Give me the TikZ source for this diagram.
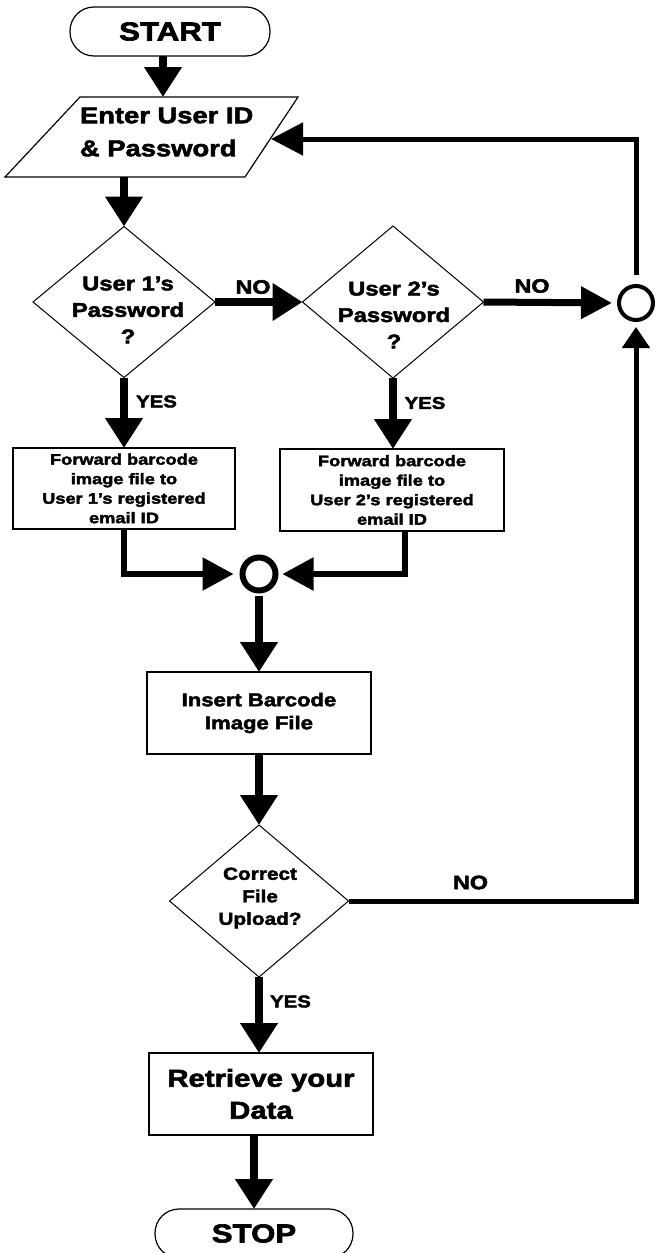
\documentclass[tikz,border=0pt]{standalone}
\usepackage{fontspec}
\setmainfont{Liberation Sans}
\newfontfamily\hv{Liberation Sans Bold}[FakeBold=2.5,FakeStretch=1.2]
\usetikzlibrary{arrows.meta,shapes.geometric,calc}
\newcommand\fsz[2]{\hv\fontsize{#1}{#2}\selectfont}
\begin{document}
\begin{tikzpicture}[x=1pt,y=-1pt,
  every node/.style={inner sep=0pt,outer sep=0pt},
  term/.style={draw,line width=1.2pt,rounded corners=24pt,minimum width=200pt,minimum height=49pt,font=\fsz{26}{30}},
  box/.style={draw,line width=1.2pt,rectangle,align=center},
  dia/.style={draw,diamond,line width=1pt},
  dtext/.style={align=center,font=\fsz{19.8}{26.5}},
  shapeline/.style={line width=1.2pt,line join=miter},
  arr/.style={line width=7.5pt,-{Triangle[length=30pt,width=36pt]}},
  arrR/.style={line width=7pt,-{Triangle[length=31pt,width=31pt]}},
  arrM/.style={line width=5.5pt,-{Triangle[length=31pt,width=32pt]}},
  loopline/.style={line width=5pt},
  nolbl/.style={font=\fsz{19.5}{22}},
  yeslbl/.style={font=\fsz{17}{19}}]
\useasboundingbox (0,0) rectangle (656,1253);

% START
\node[term] (start) at (170,31.5) {START};

% input parallelogram
\coordinate (pTL) at (80,97);
\coordinate (pTR) at (298,97);
\coordinate (pBR) at (245,177);
\coordinate (pBL) at (5,177);
\draw[shapeline] (pTL)--(pTR)--(pBR)--(pBL)--cycle;
\node[font=\fsz{22.8}{33},align=left,anchor=west] (enter) at (80,132) {Enter User ID\\\& Password};
\coordinate (enterIn) at (163,97);
\coordinate (enterOut) at (124,177);
\coordinate (enterRet) at (271,139);

% decisions
\node[dia,minimum width=182pt,minimum height=151pt] (d1) at (124,302) {};
\node[dtext] (d1t) at (128,310) {User 1’s\\Password\\?};
\node[dia,minimum width=181pt,minimum height=152pt] (d2) at (393,302) {};
\node[dtext] (d2t) at (394,315) {User 2’s\\Password\\?};
\node[circle,draw,line width=4pt,minimum size=34pt] (cR) at (636,303) {};

% forward boxes
\node[box,minimum width=222pt,minimum height=81pt,font=\fsz{15.2}{19.5}] (b1) at (124,488.5)
  {Forward barcode\\image file to\\User 1’s registered\\email ID};
\node[box,minimum width=224pt,minimum height=82pt,font=\fsz{15.2}{19.5}] (b2) at (392,490)
  {Forward barcode\\image file to\\User 2’s registered\\email ID};
\coordinate (b2out) at (405,531);

% merge circle
\node[circle,draw,line width=6pt,minimum size=33pt] (cM) at (259,574) {};

% insert
\node[box,minimum width=224pt,minimum height=82pt,font=\fsz{18.4}{23}] (ins) at (259,713)
  {Insert Barcode\\Image File};

% decision 3
\node[dia,minimum width=179pt,minimum height=152pt] (d3) at (259,901) {};
\node[align=center,font=\fsz{17.3}{22.5}] (d3t) at (260,898) {Correct\\File\\Upload?};

% retrieve
\node[box,minimum width=224pt,minimum height=82pt,font=\fsz{24.4}{32}] (ret) at (261,1094)
  {Retrieve your\\Data};

% STOP
\node[term,minimum width=198pt] (stop) at (254,1233.5) {STOP};

% connectors
\draw[arr] (start.south -| enterIn) -- (enterIn);
\draw[arr] (enterOut) -- (d1.north);
\draw[arr] (d1.east) -- (d2.west);
\draw[arrR,shorten >=7pt] (d2.east) -- (cR.west);
\draw[loopline,shorten <=11pt,-{Triangle[length=32pt,width=32pt]}] (cR.north) |- (enterRet);
\draw[arr] (d1.south) -- (b1.north);
\draw[arr] (d2.south) -- (d2.south |- b2.north);
\draw[arrM,shorten >=9pt] (b1.south) |- (cM.west);
\draw[arrM,shorten >=7pt] (b2out) |- (cM.east);
\draw[arr,shorten <=5pt] (cM.south) -- (ins.north);
\draw[arr] (ins.south) -- (d3.north);
\draw[loopline,shorten >=7pt,-{Triangle[length=21pt,width=27pt]}] (d3.east) -| (cR.south);
\draw[arr] (d3.south) -- (d3.south |- ret.north);
\draw[arr] (ret.south -| stop.north) -- (stop.north);

% labels
\node[nolbl] (no1) at (253,287) {NO};
\node[nolbl] (no2) at (532,286) {NO};
\node[nolbl] (no3) at (470.5,882.5) {NO};
\node[yeslbl] (yes1) at (156.5,401.5) {YES};
\node[yeslbl] (yes2) at (425,403) {YES};
\node[yeslbl] (yes3) at (290.5,1001.5) {YES};
\end{tikzpicture}
\end{document}
